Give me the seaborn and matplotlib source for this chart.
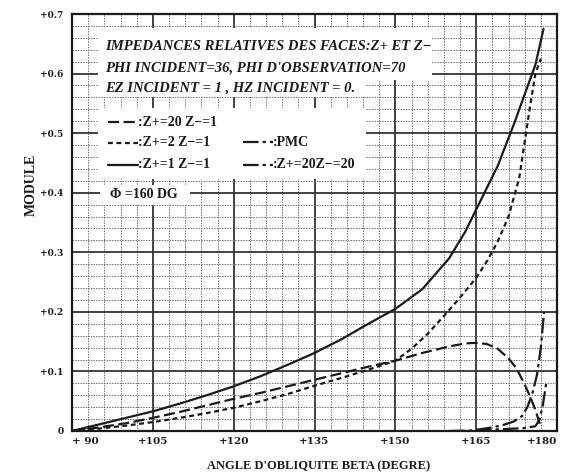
import numpy as np
import pandas as pd
import matplotlib
matplotlib.use("Agg")
import matplotlib.pyplot as plt
from matplotlib.patches import Rectangle
from matplotlib.lines import Line2D
import seaborn as sns

# ---------------- data ----------------
x_z1 = [90, 95, 100, 105, 110, 115, 120, 125, 130, 135, 140, 145, 150, 155, 160,
        163, 166, 169, 172, 174, 176, 177.5]
y_z1 = [0, 0.011, 0.022, 0.033, 0.046, 0.060, 0.075, 0.092, 0.111, 0.131, 0.154,
        0.180, 0.205, 0.238, 0.29, 0.335, 0.39, 0.445, 0.515, 0.565, 0.615, 0.675]

x_z2 = [90, 95, 100, 105, 110, 115, 120, 125, 130, 135, 140, 145, 150, 153, 156,
        159, 162, 165, 167, 169, 171, 173, 174, 175, 176, 177]
y_z2 = [0, 0.004, 0.009, 0.015, 0.022, 0.030, 0.039, 0.050, 0.062, 0.076, 0.089,
        0.103, 0.118, 0.138, 0.163, 0.193, 0.224, 0.257, 0.285, 0.318, 0.36, 0.425,
        0.485, 0.545, 0.60, 0.625]

x_z20 = [90, 95, 100, 105, 110, 115, 120, 125, 130, 135, 140, 145, 150, 155, 160,
         163, 165, 167, 169, 171, 172.5, 174, 175, 176, 176.8]
y_z20 = [0, 0.006, 0.013, 0.022, 0.032, 0.043, 0.054, 0.064, 0.075, 0.086, 0.097,
         0.108, 0.118, 0.131, 0.142, 0.147, 0.148, 0.146, 0.138, 0.122, 0.105,
         0.078, 0.058, 0.035, 0.012]

x_pmc = [165, 168, 170, 172, 173.5, 174.5, 175.5, 176.3, 177, 177.6]
y_pmc = [0.002, 0.006, 0.010, 0.016, 0.025, 0.040, 0.065, 0.095, 0.14, 0.2]

x_z2020 = [160, 165, 170, 174, 176, 176.8, 177.4, 178]
y_z2020 = [0, 0.001, 0.003, 0.005, 0.008, 0.02, 0.045, 0.08]

x_ticks = [90, 105, 120, 135, 150, 165, 180]
x_ticklabels = ["+ 90", "+105", "+120", "+135", "+150", "+165", "+180"]
y_ticks = [0, 0.1, 0.2, 0.3, 0.4, 0.5, 0.6, 0.7]
y_ticklabels = ["0", "+0.1", "+0.2", "+0.3", "+0.4", "+0.5", "+0.6", "+0.7"]

title_lines = ["IMPEDANCES RELATIVES DES FACES:Z+ ET Z\u2212",
               "PHI INCIDENT=36, PHI D'OBSERVATION=70",
               "EZ INCIDENT = 1 , HZ INCIDENT = 0."]
legend_labels = [":Z+=20 Z\u2212=1", ":Z+=2 Z\u2212=1", ":Z+=1 Z\u2212=1",
                 ":PMC", ":Z+=20Z\u2212=20"]
phi_label = "\u03a6 =160 DG"

# ---------------- styles ----------------
INK = "#1a1a1a"
st_solid = "-"
st_long = (0, (5, 2))
st_short = (0, (2.2, 1.6))
st_ldash = (0, (7, 1.8, 1.5, 1.8))

sns.set_theme(style="white")
plt.rcParams["font.family"] = ["DejaVu Serif"]

series = [
    (x_z20, y_z20, st_long, legend_labels[0]),
    (x_z2, y_z2, st_short, legend_labels[1]),
    (x_z1, y_z1, st_solid, legend_labels[2]),
    (x_pmc, y_pmc, st_ldash, legend_labels[3]),
    (x_z2020, y_z2020, st_ldash, legend_labels[4]),
]

fig = plt.figure(figsize=(5.63, 4.76), dpi=100)
fig.patch.set_facecolor("white")
ax = fig.add_axes([72 / 563, 1 - 431 / 476, 485 / 563, 417 / 476])

for xs, ys, ls, lab in series:
    df = pd.DataFrame({"beta": xs, "module": ys})
    sns.lineplot(data=df, x="beta", y="module", ax=ax, color=INK, lw=1.6,
                 linestyle=ls, sort=False, estimator=None, zorder=5)

ax.set_xlim(90, 180)
ax.set_ylim(0, 0.7)

ax.set_xticks(x_ticks)
ax.set_xticklabels(x_ticklabels, fontsize=7.5, fontweight="bold", color=INK)
xl = ax.get_xticklabels()
xl[0].set_horizontalalignment("left")
xl[-1].set_horizontalalignment("right")
ax.set_yticks(y_ticks)
ax.set_yticklabels(y_ticklabels, fontsize=6.5, fontweight="bold", color=INK)
ax.set_xticks(np.arange(90, 181, 3), minor=True)
ax.set_yticks(np.arange(0, 0.701, 0.02), minor=True)
ax.tick_params(which="both", length=0)
ax.tick_params(axis="x", pad=4)
ax.tick_params(axis="y", pad=6)

ax.grid(which="major", color="#333333", lw=1.3, ls="-", zorder=1)
ax.grid(which="minor", color="#707070", lw=0.7, ls=(0, (1.5, 1.2)), zorder=1)
ax.set_axisbelow(True)
for sp in ax.spines.values():
    sp.set_color(INK)
    sp.set_linewidth(1.6)
    sp.set_visible(True)

ax.set_xlabel("ANGLE D'OBLIQUITE BETA (DEGRE)", fontsize=9,
              fontweight="bold", color=INK, family="Liberation Serif")
ax.set_ylabel("MODULE", fontsize=10, fontweight="bold", color=INK,
              family="Liberation Serif")


def px2ax(px, py):
    return (px - 72) / 485, (431 - py) / 417


ax.xaxis.set_label_coords(*px2ax(319, 466))
ax.xaxis.label.set_va("center")
ax.yaxis.set_label_coords(*px2ax(31, 185))
ax.yaxis.label.set_va("center")


def white_box(x0, y0, x1, y1):
    ax0, ay1 = px2ax(x0, y0)
    ax1, ay0 = px2ax(x1, y1)
    ax.add_patch(Rectangle((ax0, ay0), ax1 - ax0, ay1 - ay0, transform=ax.transAxes,
                           facecolor="white", edgecolor="none", zorder=2))


white_box(98, 28, 432, 80)
white_box(98, 78, 366, 97)
white_box(98, 108, 366, 179)
white_box(100, 185, 190, 205)

# title text
for t, py in zip(title_lines, [46, 68, 88]):
    xa, ya = px2ax(105, py)
    ax.text(xa, ya, t, transform=ax.transAxes, fontsize=10.5, fontstyle="italic",
            fontweight="bold", color=INK, va="center", ha="left",
            family="Liberation Serif", zorder=6)

# legend (manual)
legend_pos = [(108, 122, 30), (108, 143, 30), (108, 165, 30), (243, 142, 30), (243, 165, 30)]
for (xs, ys, ls, lab), (px, py, w) in zip(series, legend_pos):
    xa0, ya = px2ax(px, py)
    xa1, _ = px2ax(px + w, py)
    ax.add_line(Line2D([xa0, xa1], [ya, ya], transform=ax.transAxes, color=INK,
                       lw=1.6, linestyle=ls, zorder=6))
    ax.text(xa1, ya, lab, transform=ax.transAxes, fontsize=10, fontweight="bold",
            color=INK, va="center", ha="left", family="Liberation Serif", zorder=6)

xa, ya = px2ax(110, 195)
ax.text(xa, ya, phi_label, transform=ax.transAxes, fontsize=10, fontweight="bold",
        color=INK, va="center", ha="left", family=["Liberation Serif", "DejaVu Serif"],
        zorder=6)

fig.savefig("out.png", dpi=100, facecolor="white")
